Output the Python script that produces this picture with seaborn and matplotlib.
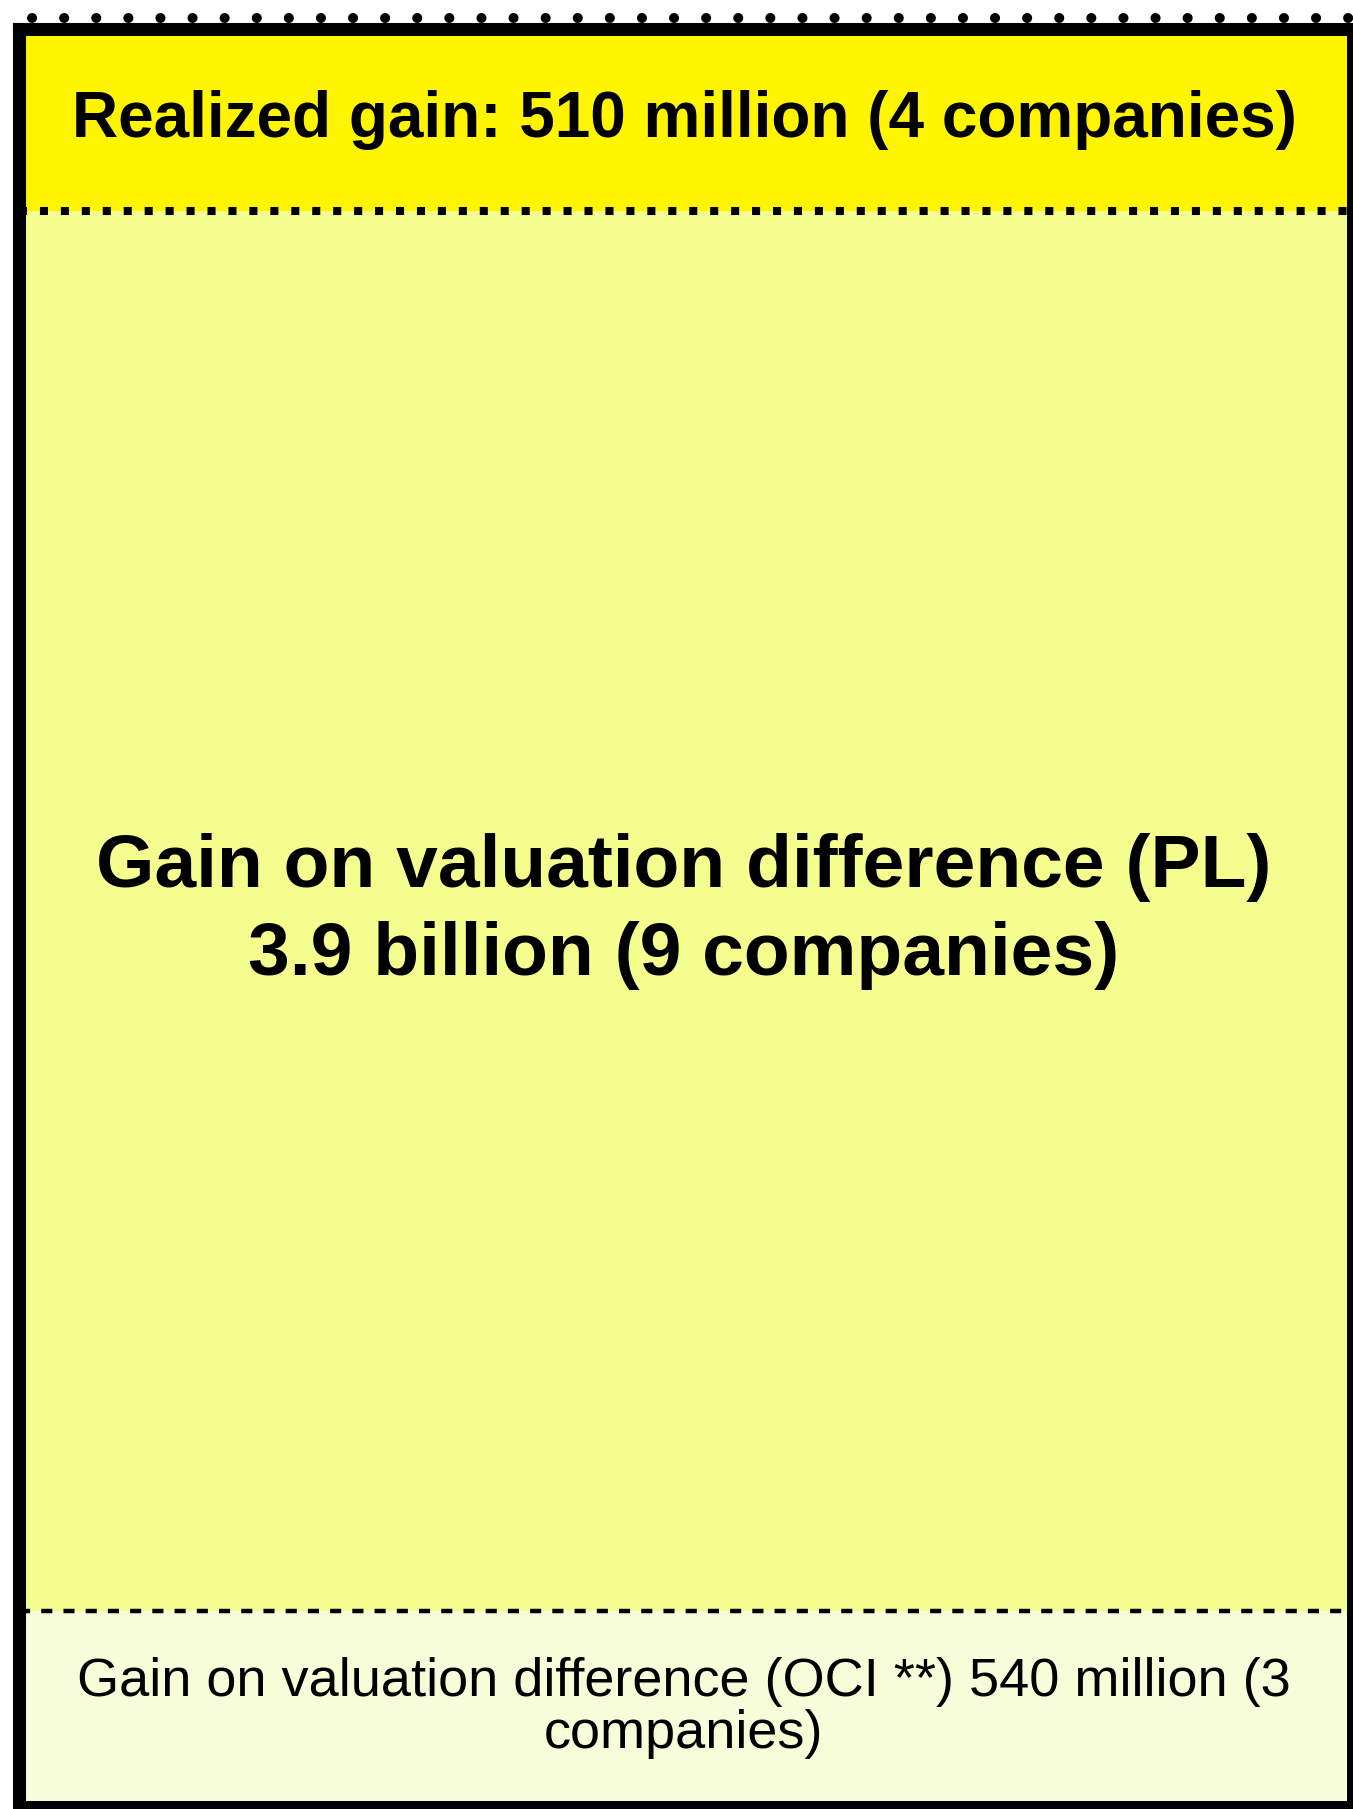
import matplotlib
matplotlib.use("Agg")
import matplotlib.pyplot as plt
from matplotlib.lines import Line2D
import numpy as np
import pandas as pd
import seaborn as sns

# 데이터 (단위: billion, 아래에서 위로 쌓는 순서)
segments = ["OCI", "PL", "Realized"]
values = [0.54, 3.9, 0.51]
labels = [
    "Gain on valuation difference (OCI **) 540 million (3\ncompanies)",
    "Gain on valuation difference (PL)\n3.9 billion (9 companies)",
    "Realized gain: 510 million (4 companies)",
]
colors = ["#F7FDD9", "#F5FD8F", "#FFF500"]

sns.set_theme(style="white")
plt.rcParams["font.family"] = ["Liberation Sans", "DejaVu Sans"]

W, H = 1353, 1809
fig = plt.figure(figsize=(W / 100, H / 100), dpi=100)
ax = fig.add_axes([18.5 / W, 1 - 1804.5 / H, (1349.5 - 18.5) / W, (1804.5 - 28.5) / H])

cum = np.cumsum(values)
df = pd.DataFrame({"segment": segments, "value": values, "top": cum})

# 누적 막대: 큰 값부터 그려서 겹치기
for i in reversed(range(len(df))):
    sns.barplot(x=["all"], y=[df["top"][i]], color=colors[i], width=1,
                saturation=1, ax=ax, linewidth=0)

ax.set_xlim(-0.5, 0.5)
ax.set_ylim(0, cum[-1])
ax.set_xticks([])
ax.set_yticks([])
ax.set_xlabel("")
ax.set_ylabel("")

# 구분선
ax.axhline(cum[1], color="black", linewidth=5.8, linestyle=(0, (1, 1.6)), zorder=3)
ax.axhline(cum[0], color="black", linewidth=3.2, linestyle=(0, (2.5, 2.5)), zorder=3)

# 라벨
sizes = [39, 54, 46]
weights = ["normal", "bold", "bold"]
spacing = [1.05, 1.35, 1.0]
for i in range(len(df)):
    ax.text(0, df["top"][i] - df["value"][i] / 2, labels[i], ha="center", va="center",
            fontsize=sizes[i], fontweight=weights[i], color="black",
            linespacing=spacing[i], zorder=4)

# 테두리
for side, lw in [("left", 9.4), ("top", 9.4), ("right", 5.0), ("bottom", 6.5)]:
    ax.spines[side].set_visible(True)
    ax.spines[side].set_color("black")
    ax.spines[side].set_linewidth(lw)
    ax.spines[side].set_zorder(5)

# 위쪽 점선
fig.add_artist(Line2D([32 / W, 1], [1 - 18 / H] * 2, transform=fig.transFigure,
                      color="black", linewidth=7.2, linestyle=(0, (0.01, 3.2)),
                      dash_capstyle="round", solid_capstyle="round", zorder=1))

fig.savefig("out.png", dpi=100)
